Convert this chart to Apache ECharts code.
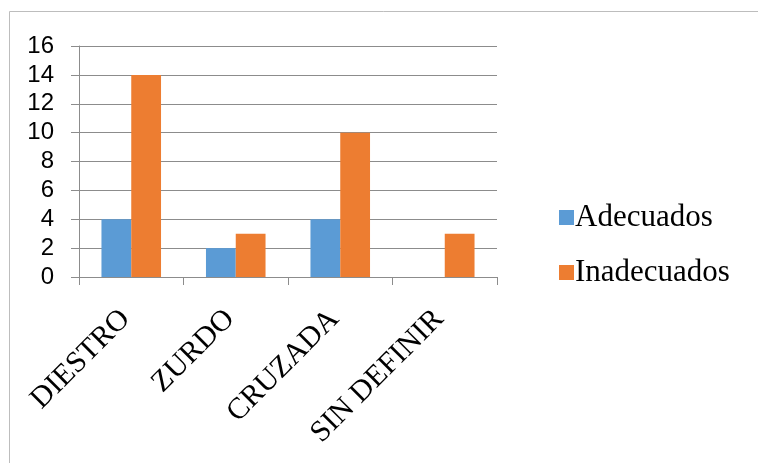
<!DOCTYPE html>
<html>
<head>
<meta charset="utf-8">
<script src="https://cdn.jsdelivr.net/npm/echarts@6/dist/echarts.min.js"></script>
<style>
  html, body { margin: 0; padding: 0; background: #fff; }
  #chart { width: 758px; height: 463px; }
</style>
</head>
<body>
<div id="chart"></div>
<script>
// datos del grafico
const categorias = ['DIESTRO', 'ZURDO', 'CRUZADA', 'SIN DEFINIR']
const adecuados = [4, 2, 4, 0]
const inadecuados = [14, 3, 10, 3]

const myChart = echarts.init(document.getElementById('chart'))

const option = {
  animation: false,
  grid: { left: 79, top: 46, width: 418, height: 231 },
  graphic: [
    // marco del area (solo arriba e izquierda)
    { type: 'line', shape: { x1: 9.5, y1: 11.5, x2: 758, y2: 11.5 }, style: { stroke: '#bdbdbd', lineWidth: 1 } },
    { type: 'line', shape: { x1: 9.5, y1: 11.5, x2: 9.5, y2: 463 }, style: { stroke: '#bdbdbd', lineWidth: 1 } }
  ],
  legend: {
    orient: 'vertical',
    left: 554,
    top: 197,
    itemWidth: 15,
    itemHeight: 15,
    itemGap: 24,
    icon: 'rect',
    textStyle: { fontFamily: 'Liberation Serif', fontSize: 31, color: '#000', padding: [0, 0, 0, -4] },
    data: ['Adecuados', 'Inadecuados']
  },
  xAxis: [
    {
      type: 'category',
      data: categorias,
      axisLine: { lineStyle: { color: '#8c8c8c' } },
      axisTick: { show: true, length: 8, lineStyle: { color: '#8c8c8c' } },
      axisLabel: { show: false }
    },
    {
      // solo para las etiquetas, algo mas abajo
      type: 'category',
      data: categorias,
      position: 'bottom',
      offset: 10,
      axisLine: { show: false },
      axisTick: { show: false },
      axisLabel: {
        rotate: 45,
        margin: 22,
        padding: [0, 8, 0, 0],
        fontFamily: 'Liberation Serif',
        fontSize: 30,
        color: '#000'
      }
    }
  ],
  yAxis: {
    type: 'value',
    min: 0,
    max: 16,
    interval: 2,
    axisLine: { show: true, lineStyle: { color: '#8c8c8c' } },
    axisTick: { show: true, length: 8, lineStyle: { color: '#8c8c8c' } },
    splitLine: { lineStyle: { color: '#8c8c8c' } },
    axisLabel: {
      margin: 25,
      fontFamily: 'Liberation Sans',
      fontSize: 24,
      color: '#000'
    }
  },
  series: [
    {
      name: 'Adecuados',
      type: 'bar',
      data: adecuados,
      barGap: 0,
      barCategoryGap: '43%',
      itemStyle: { color: '#5b9bd5' }
    },
    {
      name: 'Inadecuados',
      type: 'bar',
      data: inadecuados,
      barGap: 0,
      barCategoryGap: '43%',
      itemStyle: { color: '#ed7d31' }
    }
  ]
}

myChart.setOption(option)
</script>
</body>
</html>
